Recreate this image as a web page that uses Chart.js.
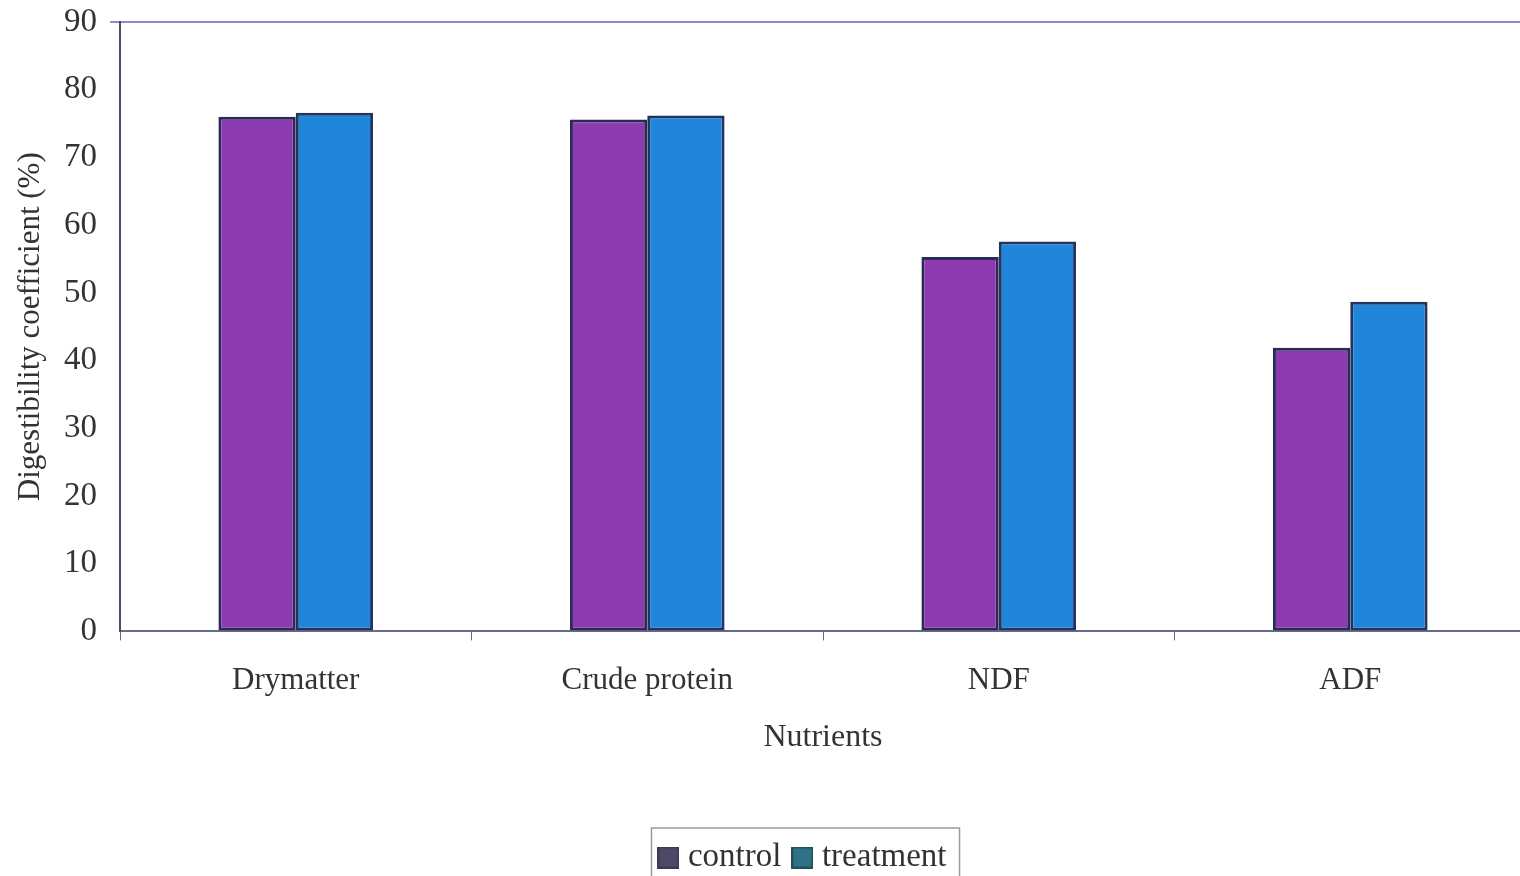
<!DOCTYPE html>
<html>
<head>
<meta charset="utf-8">
<script src="https://cdn.jsdelivr.net/npm/chart.js@4.4.1/dist/chart.umd.min.js"></script>
<style>
  html, body { margin: 0; padding: 0; background: #fff; overflow: hidden; }
  #wrap { position: relative; width: 1530px; height: 876px; }
</style>
</head>
<body>
<div id="wrap"><canvas id="c" width="1530" height="876"></canvas></div>
<script>
// Nutrient digestibility, control vs treatment
const nutrients = ['Drymatter', 'Crude protein', 'NDF', 'ADF'];
const controlValues = [76.0, 75.6, 55.3, 41.9];
const treatmentValues = [76.6, 76.2, 57.6, 48.7];
const yTicks = [0, 10, 20, 30, 40, 50, 60, 70, 80, 90];

const SERIF = '"Liberation Serif", "Times New Roman", serif';
const INK = '#333333';

// Small square swatches used as legend markers
function swatch(fill, edge) {
  const c = document.createElement('canvas');
  c.width = 22; c.height = 22;
  const g = c.getContext('2d');
  g.fillStyle = edge;
  g.fillRect(0, 0, 22, 22);
  g.fillStyle = fill;
  g.fillRect(2, 2, 18, 18);
  return c;
}
const legendMarks = [swatch('#4d4a66', '#3c3a52'), swatch('#2f7186', '#22505f')];

// Moves the legend row sideways/down and frames it with a thin border
const LEGEND_SHIFT_X = 43;
const LEGEND_SHIFT_Y = 8;
const legendBox = {
  id: 'legendBox',
  afterLayout(chart) {
    const lg = chart.legend;
    if (!lg) return;
    lg.left += LEGEND_SHIFT_X; lg.right += LEGEND_SHIFT_X;
    lg.top += LEGEND_SHIFT_Y; lg.bottom += LEGEND_SHIFT_Y;
  },
  afterDraw(chart) {
    const lg = chart.legend;
    if (!lg || !lg.lineWidths) return;
    const pad = lg.options.labels.padding;
    const lw = lg.lineWidths[0];
    const x0 = (lg.left + pad + lg.right - lw) / 2;
    const left = x0 - 14;
    const right = x0 + lw - pad + 13;
    const top = lg.top + pad - 13;
    const ctx = chart.ctx;
    ctx.save();
    ctx.strokeStyle = '#9a9a9a';
    ctx.lineWidth = 1.5;
    ctx.strokeRect(left, top, right - left, 80);
    ctx.restore();
  }
};

new Chart(document.getElementById('c'), {
  type: 'bar',
  data: {
    labels: nutrients,
    datasets: [
      {
        label: 'control',
        data: controlValues,
        backgroundColor: '#8d3bb0',
        borderColor: '#2b2a55',
        borderWidth: 3,
        borderSkipped: false
      },
      {
        label: 'treatment',
        data: treatmentValues,
        backgroundColor: '#1f86dc',
        borderColor: '#24345e',
        borderWidth: 3,
        borderSkipped: false
      }
    ]
  },
  options: {
    responsive: false,
    animation: false,
    devicePixelRatio: 1,
    layout: { padding: { top: 22, left: 0, right: 4, bottom: 0 } },
    datasets: {
      bar: { categoryPercentage: 0.44, barPercentage: 1.0 }
    },
    plugins: {
      tooltip: { enabled: false },
      legend: {
        position: 'bottom',
        labels: {
          font: { family: SERIF, size: 33 },
          color: INK,
          usePointStyle: true,
          pointStyleWidth: 6,
          boxHeight: 22,
          padding: 18,
          generateLabels(chart) {
            return chart.data.datasets.map((ds, i) => ({
              text: ds.label,
              pointStyle: legendMarks[i],
              fillStyle: '#000',
              strokeStyle: '#000',
              lineWidth: 0,
              fontColor: INK,
              datasetIndex: i
            }));
          }
        }
      }
    },
    scales: {
      x: {
        offset: true,
        grid: {
          offset: true,
          drawOnChartArea: false,
          drawTicks: true,
          tickLength: 9,
          color: '#6a6a80'
        },
        border: { display: true, color: '#6a6a90', width: 2 },
        ticks: {
          font: { family: SERIF, size: 31 },
          color: INK,
          padding: 22
        },
        title: {
          display: true,
          text: 'Nutrients',
          font: { family: SERIF, size: 32 },
          color: INK,
          padding: { top: -3, bottom: 58 }
        }
      },
      y: {
        min: 0,
        max: 90,
        afterBuildTicks(scale) {
          scale.ticks = yTicks.map(v => ({ value: v }));
        },
        afterFit(scale) {
          scale.width = 120;
          scale.paddingTop = 0;
          scale.paddingBottom = 0;
        },
        grid: {
          drawOnChartArea: true,
          drawTicks: true,
          tickLength: 10,
          color: ctx => (ctx.tick && ctx.tick.value === 90) ? '#8a8ad6' : 'rgba(0,0,0,0)',
          lineWidth: 2
        },
        border: { display: true, color: '#4a4a60', width: 2 },
        ticks: {
          font: { family: SERIF, size: 33 },
          color: INK,
          padding: 13
        },
        title: {
          display: true,
          text: 'Digestibility coefficient (%)',
          font: { family: SERIF, size: 31 },
          color: INK,
          padding: { top: 12, bottom: 0 }
        }
      }
    }
  },
  plugins: [legendBox]
});
</script>
</body>
</html>
